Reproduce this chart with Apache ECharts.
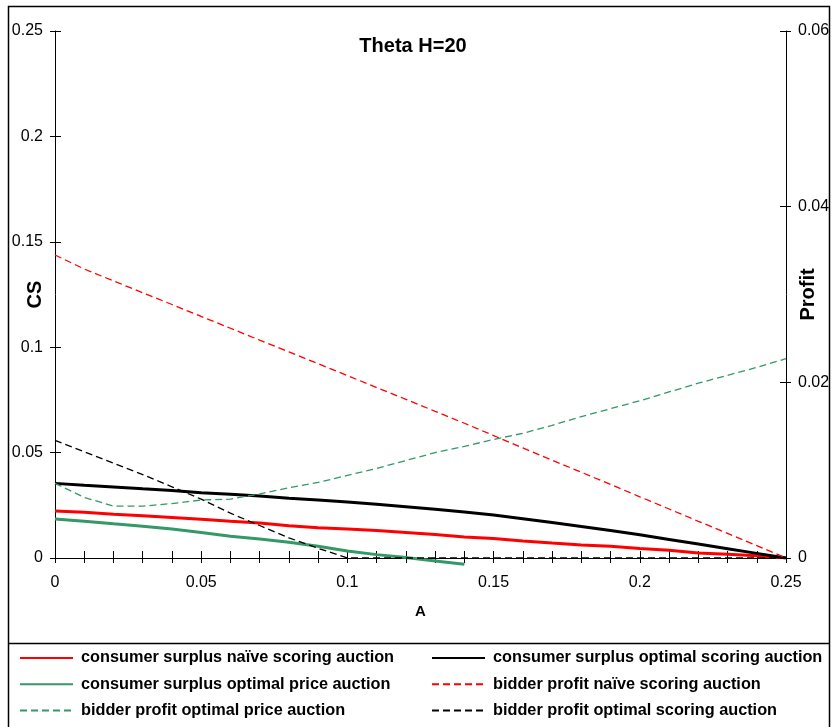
<!DOCTYPE html>
<html>
<head>
<meta charset="utf-8">
<script src="https://cdn.jsdelivr.net/npm/echarts@6/dist/echarts.min.js"></script>
<style>
html,body{margin:0;padding:0;background:#fff;}
#chart{width:833px;height:727px;}
</style>
</head>
<body>
<div id="chart"></div>
<script>
// ---- data ----
var xValues = [0,0.01,0.02,0.03,0.04,0.05,0.06,0.07,0.08,0.09,0.10,0.11,0.12,0.13,0.14,0.15,0.16,0.17,0.18,0.19,0.20,0.21,0.22,0.23,0.24,0.25];
var csNaive      = [0.0223,0.0217,0.0208,0.0200,0.0192,0.0184,0.0174,0.0166,0.0153,0.0144,0.0138,0.0130,0.0121,0.0111,0.0100,0.0092,0.0081,0.0071,0.0062,0.0056,0.0045,0.0037,0.0024,0.0018,0.0011,0];
var csOptScoring = [0.0354,0.0345,0.0337,0.0328,0.0320,0.0310,0.0302,0.0294,0.0284,0.0275,0.0266,0.0255,0.0243,0.0231,0.0218,0.0204,0.0186,0.0168,0.0149,0.0130,0.0110,0.0088,0.0066,0.0044,0.0022,0];
var csOptPrice   = [0.0185,0.0174,0.0162,0.0151,0.0138,0.0121,0.0103,0.0090,0.0075,0.0056,0.0033,0.0016,0.0002,-0.0014,-0.0030,null,null,null,null,null,null,null,null,null,null,null];
var bpNaive      = [0.0345,0.0329,0.03155,0.0302,0.02886,0.0275,0.02616,0.0248,0.02347,0.02212,0.02077,0.0194,0.01807,0.0167,0.01534,0.01394,0.01253,0.01114,0.00976,0.00837,0.00697,0.00558,0.00418,0.00281,0.00141,0];
var bpOptPrice   = [0.0085,0.0069,0.0059,0.0059,0.0062,0.0066,0.0067,0.0073,0.0080,0.0086,0.0094,0.0102,0.0111,0.0120,0.0127,0.0135,0.0142,0.0151,0.0161,0.0170,0.0179,0.0189,0.0199,0.0208,0.0217,0.0227];
var bpOptScoring = [0.0134,0.0121,0.0108,0.0095,0.0081,0.0067,0.0051,0.0037,0.0023,0.0011,0,0,0,0,0,0,0,0,0,0,0,0,0,0,0,0];
var seriesNames = ['consumer surplus naïve scoring auction','consumer surplus optimal scoring auction','consumer surplus optimal price auction','bidder profit naïve scoring auction','bidder profit optimal price auction','bidder profit optimal scoring auction'];
var titleText = 'Theta H=20';
var xName = 'A', yLeftName = 'CS', yRightName = 'Profit';

function pairs(arr){ return xValues.map(function(x,i){ return [x, arr[i]]; }); }

var FONT = 'Liberation Sans, Arial, sans-serif';
var GREEN = '#339966';
var G = {left:55, right:47, top:31, bottom:169, containLabel:false, outerBoundsMode:'none'};

var chart = echarts.init(document.getElementById('chart'), null, {renderer:'canvas'});

function mkLine(name, data, color, width, dashed, yIdx, clip){
  return {
    name:name, type:'line', data:pairs(data), xAxisIndex:0, yAxisIndex:yIdx,
    showSymbol:false, symbol:'none', smooth:false, clip:clip,
    lineStyle:{color:color, width:width, type: dashed ? [7,4] : 'solid'},
    itemStyle:{color:color}, emphasis:{disabled:true}, z: dashed?3:2
  };
}

function mkLegend(left, names){
  return {
    orient:'vertical', left:left, top:650, padding:0, itemWidth:53, itemHeight:14, itemGap:10.3,
    itemStyle:{opacity:0},
    textStyle:{fontFamily:FONT, fontSize:16.3, fontWeight:'bold', color:'#000', padding:[0,0,0,3]},
    selectedMode:false, data:names
  };
}

var tickStyle = {color:'#000', width:1};
var option = {
  animation:false,
  backgroundColor:'#fff',
  title:{text:titleText, left:408, top:31, textAlign:'center',
    textStyle:{fontFamily:FONT, fontSize:20, fontWeight:'bold', color:'#000'}},
  grid:[G, Object.assign({}, G)],
  legend:[
    mkLegend(19, [seriesNames[0], seriesNames[2], seriesNames[4]]),
    mkLegend(431, [seriesNames[1], seriesNames[3], seriesNames[5]])
  ],
  xAxis:[
    {type:'value', gridIndex:0, min:0, max:0.25, interval:0.01, position:'bottom',
     name:xName, nameLocation:'middle', nameGap:46, nameMoveOverlap:false,
     nameTextStyle:{fontFamily:FONT, fontSize:15, fontWeight:'bold', color:'#000'},
     axisLine:{show:true, onZero:false, lineStyle:{color:'#000', width:1}},
     axisTick:{show:true, inside:false, length:5, lineStyle:tickStyle},
     axisLabel:{fontFamily:FONT, fontSize:16, color:'#000', margin:17,
       formatter:function(v){ var k=Math.round(v*100); return (k%5===0) ? String(k/100) : ''; }},
     splitLine:{show:false}},
    {type:'value', gridIndex:1, min:0, max:0.25, interval:0.01, position:'bottom',
     axisLine:{show:false}, axisLabel:{show:false}, splitLine:{show:false},
     axisTick:{show:true, inside:true, length:7, lineStyle:tickStyle}}
  ],
  yAxis:[
    {type:'value', gridIndex:0, min:0, max:0.25, interval:0.05, position:'left',
     name:yLeftName, nameLocation:'middle', nameGap:10, nameRotate:90, nameMoveOverlap:false,
     nameTextStyle:{fontFamily:FONT, fontSize:20, fontWeight:'bold', color:'#000'},
     axisLine:{show:true, onZero:false, lineStyle:{color:'#000', width:1}},
     axisTick:{show:true, inside:false, length:5, lineStyle:tickStyle},
     axisLabel:{fontFamily:FONT, fontSize:16, color:'#000', margin:12},
     splitLine:{show:false}},
    {type:'value', gridIndex:0, min:0, max:0.06, interval:0.02, position:'right',
     name:yRightName, nameLocation:'middle', nameGap:12, nameRotate:90, nameMoveOverlap:false,
     nameTextStyle:{fontFamily:FONT, fontSize:20, fontWeight:'bold', color:'#000'},
     axisLine:{show:true, onZero:false, lineStyle:{color:'#000', width:1}},
     axisTick:{show:true, inside:false, length:5, lineStyle:tickStyle},
     axisLabel:{fontFamily:FONT, fontSize:16, color:'#000', margin:12},
     splitLine:{show:false}},
    {type:'value', gridIndex:1, min:0, max:0.25, interval:0.05, position:'left',
     axisLine:{show:false}, axisLabel:{show:false}, splitLine:{show:false},
     axisTick:{show:true, inside:true, length:6, lineStyle:tickStyle}},
    {type:'value', gridIndex:1, min:0, max:0.06, interval:0.02, position:'right',
     axisLine:{show:false}, axisLabel:{show:false}, splitLine:{show:false},
     axisTick:{show:true, inside:true, length:6, lineStyle:tickStyle}}
  ],
  graphic:[
    {type:'rect', shape:{x:8.5, y:6.5, width:821, height:740}, style:{fill:null, stroke:'#000', lineWidth:1.5}, silent:true, z:100},
    {type:'line', shape:{x1:8.5, y1:643.5, x2:829.5, y2:643.5}, style:{stroke:'#000', lineWidth:1.5}, silent:true, z:100}
  ],
  series:[
    mkLine(seriesNames[0], csNaive, '#ff0000', 3, false, 0, true),
    mkLine(seriesNames[1], csOptScoring, '#000000', 3, false, 0, true),
    mkLine(seriesNames[2], csOptPrice, GREEN, 3, false, 0, false),
    mkLine(seriesNames[3], bpNaive, '#ff0000', 1.3, true, 1, true),
    mkLine(seriesNames[4], bpOptPrice, GREEN, 1.3, true, 1, true),
    mkLine(seriesNames[5], bpOptScoring, '#000000', 1.3, true, 1, false)
  ]
};
chart.setOption(option);
</script>
</body>
</html>
